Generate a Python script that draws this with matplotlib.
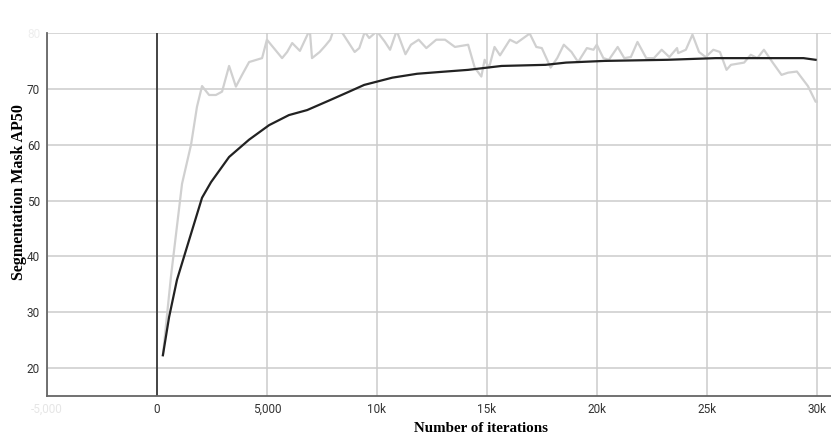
import numpy as np
import matplotlib
matplotlib.use("Agg")
import matplotlib.pyplot as plt
from matplotlib.ticker import FuncFormatter

# raw evaluation values (light gray)
raw_iter = [270, 640, 1140, 1550, 1820, 2050, 2370, 2680, 2960, 3280, 3590, 3870,
            4190, 4780, 5000, 5690, 5920, 6150, 6500, 6950, 7050, 7400, 7650, 7880,
            8000, 8350, 8990, 9200, 9450, 9650, 10000, 10350, 10600, 10900, 11300,
            11550, 11900, 12250, 12700, 13100, 13550, 14150, 14450, 14750, 14900,
            15100, 15350, 15600, 16050, 16350, 16950, 17250, 17500, 17800, 17900,
            18200, 18500, 18850, 19150, 19550, 19850, 20000, 20300, 20550, 20950,
            21250, 21550, 21850, 22250, 22600, 22950, 23300, 23650, 23700, 24050,
            24350, 24650, 24950, 25300, 25600, 25900, 26100, 26700, 27000, 27300,
            27600, 28000, 28400, 28700, 29100, 29600, 29950, 30000]
raw_val = [22.3, 36.5, 53.0, 60.0, 66.8, 70.5, 68.9, 68.9, 69.5, 74.1, 70.4, 72.5,
           74.8, 75.5, 78.8, 75.5, 76.6, 78.2, 76.8, 80.6, 75.5, 76.6, 77.7, 78.8,
           80.2, 80.5, 76.6, 77.3, 80.2, 79.1, 80.3, 78.5, 77.0, 80.4, 76.2, 77.9,
           78.8, 77.3, 78.8, 78.8, 77.5, 77.9, 73.8, 72.2, 75.2, 73.8, 77.5, 76.0,
           78.8, 78.2, 79.9, 77.5, 77.3, 74.7, 73.8, 75.5, 77.9, 76.6, 74.8, 77.3,
           77.0, 77.9, 75.5, 75.2, 77.5, 75.5, 75.7, 78.4, 75.5, 75.5, 77.0, 75.7,
           77.3, 76.4, 77.0, 79.7, 76.6, 75.7, 77.0, 76.6, 73.4, 74.3, 74.7, 76.1,
           75.5, 77.0, 74.7, 72.5, 72.9, 73.1, 70.5, 67.7, 67.7]

# smoothed values (dark line)
smooth_iter = [270, 550, 910, 1320, 2050, 2460, 3280, 4190, 5100, 6000, 6830, 7880,
               8740, 9420, 10010, 10700, 11830, 12800, 14150, 15670, 17670, 18600,
               20340, 23200, 25400, 27700, 29400, 29950]
smooth_val = [22.3, 29.1, 35.8, 41.1, 50.5, 53.3, 57.8, 60.9, 63.5, 65.3, 66.2, 68.0,
              69.5, 70.7, 71.3, 72.0, 72.7, 73.0, 73.4, 74.1, 74.3, 74.7, 75.0,
              75.2, 75.5, 75.5, 75.5, 75.2]

x_ticks = [-5000, 0, 5000, 10000, 15000, 20000, 25000, 30000]
y_ticks = [20, 30, 40, 50, 60, 70, 80]


def fmt_x(v, pos):
    if abs(v) < 10000:
        return "{:,}".format(int(v))
    return "{}k".format(int(v / 1000))


fig = plt.figure(figsize=(8.31, 4.45), dpi=100)
ax = fig.add_axes([47 / 831, 49 / 445, 784 / 831, 363 / 445])
ax.set_axisbelow(True)

ax.plot(raw_iter, raw_val, color="#d0d0d0", lw=1.6, zorder=2)
ax.plot(smooth_iter, smooth_val, color="#222222", lw=1.6, zorder=3)
ax.axvline(0, color="#444444", lw=1.4, zorder=1.5)

ax.set_xlim(-5000, 30650)
ax.set_ylim(15, 80)
ax.set_xticks(x_ticks)
ax.set_yticks(y_ticks)
ax.xaxis.set_major_formatter(FuncFormatter(fmt_x))
ax.grid(True, color="#cccccc", lw=1.1)
ax.tick_params(length=0, labelsize=8.5, pad=5, labelcolor="#333333")
for lab in ax.get_xticklabels() + ax.get_yticklabels():
    lab.set_family("Roboto")
# first x label and top y label are washed out in the source
ax.get_xticklabels()[0].set_color("#e6e6e6")
ax.get_yticklabels()[-1].set_color("#eeeeee")

for side in ["top", "right"]:
    ax.spines[side].set_visible(False)
for side in ["left", "bottom"]:
    ax.spines[side].set_color("#666666")
    ax.spines[side].set_linewidth(1.3)

ax.set_xlabel("Number of iterations", family="Liberation Serif",
              fontweight="bold", fontsize=10.8)
ax.xaxis.set_label_coords(0.553, -0.073)
ax.set_ylabel("Segmentation Mask AP50", family="Liberation Serif",
              fontweight="bold", fontsize=11.5)
ax.yaxis.set_label_coords(-0.025, 0.562)

fig.savefig("out.png", dpi=100)
